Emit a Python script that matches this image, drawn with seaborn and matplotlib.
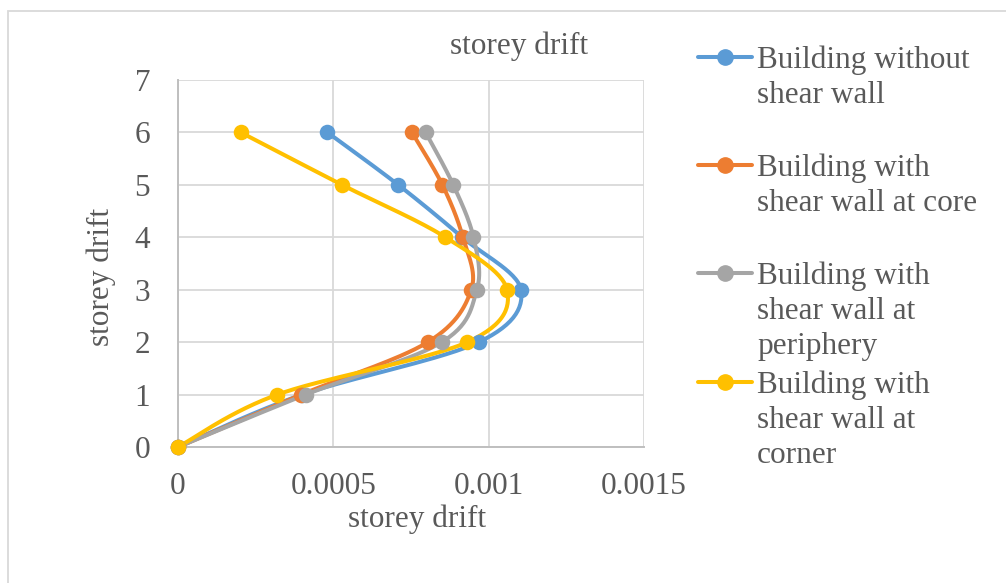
import numpy as np
import pandas as pd
import matplotlib
matplotlib.use("Agg")
import matplotlib.pyplot as plt
from matplotlib.lines import Line2D
from matplotlib.patches import Rectangle
import seaborn as sns

# ---------------- data ----------------
storeys = [0, 1, 2, 3, 4, 5, 6]
without_wall = [0.0, 0.000400, 0.000968, 0.001104, 0.000915, 0.000709, 0.000481]
wall_core = [0.0, 0.000397, 0.000804, 0.000944, 0.000917, 0.000851, 0.000753]
wall_periphery = [0.0, 0.000411, 0.000849, 0.000962, 0.000951, 0.000886, 0.000797]
wall_corner = [0.0, 0.000320, 0.000931, 0.001059, 0.000861, 0.000528, 0.000202]

series_names = ["Building without shear wall",
                "Building with shear wall at core",
                "Building with shear wall at periphery",
                "Building with shear wall at corner"]
legend_lines = [["Building without", "shear wall"],
                ["Building with", "shear wall at core"],
                ["Building with", "shear wall at", "periphery"],
                ["Building with", "shear wall at", "corner"]]
colors = ["#5B9BD5", "#ED7D31", "#A5A5A5", "#FFC000"]
x_ticks = [0, 0.0005, 0.001, 0.0015]
x_tick_labels = ["0", "0.0005", "0.001", "0.0015"]
y_ticks = [0, 1, 2, 3, 4, 5, 6, 7]

title = "storey drift"
xlabel = "storey drift"
ylabel = "storey drift"

df = pd.DataFrame({
    "storey": storeys * 4,
    "drift": without_wall + wall_core + wall_periphery + wall_corner,
    "series": sum([[n] * len(storeys) for n in series_names], []),
})


def smooth(xs, ys, n=30):
    """Catmull-Rom (Excel-like) smoothing through the points."""
    P = np.column_stack([xs, ys]).astype(float)
    P = np.vstack([P[0], P, P[-1]])
    out = []
    t = np.linspace(0, 1, n, endpoint=False)
    for i in range(1, len(P) - 2):
        p0, p1, p2, p3 = P[i - 1], P[i], P[i + 1], P[i + 2]
        c1 = p1 + (p2 - p0) / 6.0
        c2 = p2 - (p3 - p1) / 6.0
        tt = t[:, None]
        seg = ((1 - tt) ** 3) * p1 + 3 * ((1 - tt) ** 2) * tt * c1 + 3 * (1 - tt) * tt ** 2 * c2 + tt ** 3 * p2
        out.append(seg)
    out.append(P[-2][None, :])
    arr = np.vstack(out)
    return arr[:, 0], arr[:, 1]


sns.set_theme(style="white")
plt.rcParams["font.family"] = ["Liberation Serif", "DejaVu Serif"]
text_color = "#595959"
FS = 22.5

fig = plt.figure(figsize=(10.06, 5.83), dpi=100)
fig.patch.set_facecolor("white")
# chart border
fig.add_artist(Rectangle((7.5 / 1006, -0.1), 1.2, 1 - 10.5 / 583 + 0.1,
                         transform=fig.transFigure, fill=False,
                         edgecolor="#d9d9d9", linewidth=1.3))

ax = fig.add_axes([178 / 1006, 1 - 447 / 583, (644 - 178) / 1006, (447 - 80) / 583])
ax.set_facecolor("white")

for name, col in zip(series_names, colors):
    sub = df[df["series"] == name]
    sx, sy = smooth(sub["drift"].values, sub["storey"].values)
    sm = pd.DataFrame({"x": sx, "y": sy})
    sns.lineplot(data=sm, x="x", y="y", sort=False, estimator=None, ax=ax,
                 color=col, linewidth=2.9, zorder=3, clip_on=False)
    sns.scatterplot(data=sub, x="drift", y="storey", ax=ax, color=col,
                    s=125, edgecolor=col, linewidth=0, zorder=4, clip_on=False)

ax.set_xlim(0, 0.0015)
ax.set_ylim(0, 7)
ax.set_xticks(x_ticks)
ax.set_xticklabels(x_tick_labels)
ax.set_yticks(y_ticks)
ax.grid(True, color="#d9d9d9", linewidth=1.3)
ax.set_axisbelow(True)
for s in ["top", "right"]:
    ax.spines[s].set_visible(False)
for s in ["left", "bottom"]:
    ax.spines[s].set_color("#bfbfbf")
    ax.spines[s].set_linewidth(1.4)
ax.tick_params(axis="x", length=0, pad=18, labelsize=FS, labelcolor=text_color)
ax.tick_params(axis="y", length=0, pad=20, labelsize=FS, labelcolor=text_color)
ax.set_xlabel("")
ax.set_ylabel("")

fig.text(417 / 1006, 1 - 519 / 583, xlabel, ha="center", va="center",
         fontsize=FS, color=text_color)
fig.text(101 / 1006, 1 - 277 / 583, ylabel, ha="center", va="center",
         rotation=90, fontsize=FS, color=text_color)
fig.text(519 / 1006, 1 - 46 / 583, title, ha="center", va="center",
         fontsize=FS, color=text_color)

# manual legend
entry_y = [57, 165, 273, 382]
line_step = 35
for lines, col, ey in zip(legend_lines, colors, entry_y):
    yf = 1 - ey / 583
    fig.add_artist(Line2D([698 / 1006, 752 / 1006], [yf, yf], color=col,
                          linewidth=2.9, transform=fig.transFigure))
    fig.add_artist(Line2D([725 / 1006], [yf], color=col, marker="o",
                          markersize=11, linestyle="none",
                          transform=fig.transFigure))
    for k, t in enumerate(lines):
        fig.text(757 / 1006, 1 - (ey + k * line_step) / 583, t, ha="left",
                 va="center_baseline", fontsize=FS, color=text_color)

fig.savefig("out.png", dpi=100, facecolor="white")
